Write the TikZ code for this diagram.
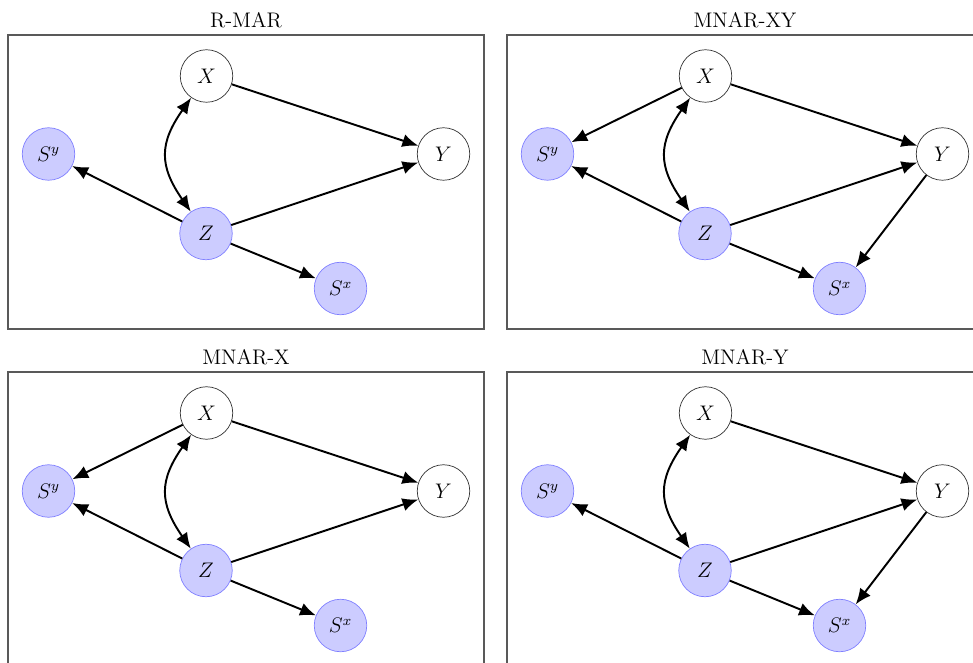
\documentclass[tikz,border=0pt]{standalone}
\usetikzlibrary{arrows.meta}
\begin{document}
\begin{tikzpicture}[
      var/.style={circle,draw=black!80,line width=0.4pt,minimum size=1.05cm,inner sep=0pt,font=\large},
      obs/.style={var,draw=blue!50,fill=blue!20},
      edge/.style={-{Latex[length=9pt,width=7.5pt]},line width=1.1pt},
      biedge/.style={{Latex[length=9pt,width=7.5pt]}-{Latex[length=9pt,width=7.5pt]},line width=1.1pt},
      frame/.style={draw=black!65,line width=0.8pt},
      title/.style={font=\large}]
      \useasboundingbox (0,0) rectangle (19.46,-13.26);
      \clip (0,0) rectangle (19.46,-13.26);
      % R-MAR
      \begin{scope}
      \node[title] (rTitle) at (4.92,-0.40) {R-MAR};
      \draw[frame] (0.16,-0.70) rectangle (9.68,-6.58);
      \node[var] (rX) at (4.13,-1.52) {$X$};
      \node[var] (rY) at (8.87,-3.08) {$Y$};
      \node[obs] (rSy) at (0.97,-3.08) {$S^y$};
      \node[obs] (rZ) at (4.12,-4.67) {$Z$};
      \node[obs] (rSx) at (6.81,-5.77) {$S^x$};
      \draw[edge] (rX) -- (rY);
      \draw[edge] (rZ) -- (rY);
      \draw[edge] (rZ) -- (rSy);
      \draw[edge] (rZ) -- (rSx);
      \draw[biedge] (rX) to[bend right=35,looseness=1.25] (rZ);
      \end{scope}
      % MNAR-XY
      \begin{scope}[shift={(9.98,0)}]
      \node[title] (xyTitle) at (4.92,-0.40) {MNAR-XY};
      \draw[frame] (0.16,-0.70) rectangle (9.68,-6.58);
      \node[var] (xyX) at (4.13,-1.52) {$X$};
      \node[var] (xyY) at (8.87,-3.08) {$Y$};
      \node[obs] (xySy) at (0.97,-3.08) {$S^y$};
      \node[obs] (xyZ) at (4.12,-4.67) {$Z$};
      \node[obs] (xySx) at (6.81,-5.77) {$S^x$};
      \draw[edge] (xyX) -- (xyY);
      \draw[edge] (xyZ) -- (xyY);
      \draw[edge] (xyZ) -- (xySy);
      \draw[edge] (xyZ) -- (xySx);
      \draw[edge] (xyX) -- (xySy);
      \draw[edge] (xyY) -- (xySx);
      \draw[biedge] (xyX) to[bend right=35,looseness=1.25] (xyZ);
      \end{scope}
      % MNAR-X
      \begin{scope}[shift={(0,-6.74)}]
      \node[title] (xTitle) at (4.92,-0.40) {MNAR-X};
      \draw[frame] (0.16,-0.70) rectangle (9.68,-6.58);
      \node[var] (xX) at (4.13,-1.52) {$X$};
      \node[var] (xY) at (8.87,-3.08) {$Y$};
      \node[obs] (xSy) at (0.97,-3.08) {$S^y$};
      \node[obs] (xZ) at (4.12,-4.67) {$Z$};
      \node[obs] (xSx) at (6.81,-5.77) {$S^x$};
      \draw[edge] (xX) -- (xY);
      \draw[edge] (xZ) -- (xY);
      \draw[edge] (xZ) -- (xSy);
      \draw[edge] (xZ) -- (xSx);
      \draw[edge] (xX) -- (xSy);
      \draw[biedge] (xX) to[bend right=35,looseness=1.25] (xZ);
      \end{scope}
      % MNAR-Y
      \begin{scope}[shift={(9.98,-6.74)}]
      \node[title] (yTitle) at (4.92,-0.40) {MNAR-Y};
      \draw[frame] (0.16,-0.70) rectangle (9.68,-6.58);
      \node[var] (yX) at (4.13,-1.52) {$X$};
      \node[var] (yY) at (8.87,-3.08) {$Y$};
      \node[obs] (ySy) at (0.97,-3.08) {$S^y$};
      \node[obs] (yZ) at (4.12,-4.67) {$Z$};
      \node[obs] (ySx) at (6.81,-5.77) {$S^x$};
      \draw[edge] (yX) -- (yY);
      \draw[edge] (yZ) -- (yY);
      \draw[edge] (yZ) -- (ySy);
      \draw[edge] (yZ) -- (ySx);
      \draw[edge] (yY) -- (ySx);
      \draw[biedge] (yX) to[bend right=35,looseness=1.25] (yZ);
      \end{scope}
   \end{tikzpicture}
\end{document}
